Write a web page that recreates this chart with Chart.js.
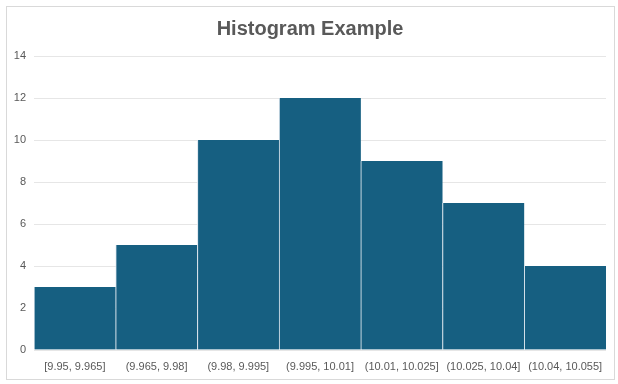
<!DOCTYPE html>
<html>
<head>
<meta charset="utf-8">
<script src="https://cdn.jsdelivr.net/npm/chart.js@4.4.1/dist/chart.umd.min.js"></script>
<style>
  html, body { margin: 0; padding: 0; background: #fff; }
  #wrap { position: relative; width: 618px; height: 384px; }
  #frame { position: absolute; left: 6px; top: 6px; width: 607px; height: 372px; border: 1px solid #d9d9d9; pointer-events: none; }
</style>
</head>
<body>
<div id="wrap">
  <canvas id="histChart" width="618" height="384"></canvas>
  <div id="frame"></div>
</div>
<script>
const binLabels = ['[9.95, 9.965]', '(9.965, 9.98]', '(9.98, 9.995]', '(9.995, 10.01]',
                   '(10.01, 10.025]', '(10.025, 10.04]', '(10.04, 10.055]'];
const counts = [3, 5, 10, 12, 9, 7, 4];
const yMax = 14;
const yStep = 2;

const tickColor = '#595959';

const ctx = document.getElementById('histChart').getContext('2d');
new Chart(ctx, {
  type: 'bar',
  data: {
    labels: binLabels,
    datasets: [{
      label: 'Count',
      data: counts,
      backgroundColor: '#165f81',
      borderColor: '#dce6ee',
      borderWidth: { left: 1, right: 0, top: 0, bottom: 0 },
      borderSkipped: false,
      barPercentage: 1,
      categoryPercentage: 1,
    }]
  },
  options: {
    responsive: false,
    animation: false,
    layout: {
      padding: { left: 14, right: 12, top: 6, bottom: 6 }
    },
    scales: {
      x: {
        grid: { display: false, drawTicks: false },
        border: { display: false },
        ticks: {
          color: tickColor,
          padding: 10,
          maxRotation: 0,
          autoSkip: false,
          font: { family: 'Liberation Sans', size: 11 }
        },
        afterFit: scale => { scale.height = 28; }
      },
      y: {
        min: 0,
        max: yMax,
        grid: { color: '#e6e6e6', drawTicks: false },
        border: { display: false },
        ticks: {
          stepSize: yStep,
          color: tickColor,
          padding: 8,
          font: { family: 'Liberation Sans', size: 11 }
        },
        afterFit: scale => { scale.width = 20; }
      }
    },
    plugins: {
      legend: { display: false },
      tooltip: { enabled: false },
      title: {
        display: true,
        text: 'Histogram Example',
        color: tickColor,
        padding: { top: 11, bottom: 15 },
        font: { family: "'Liberation Sans', sans-serif", size: 20, weight: 'bold' }
      }
    }
  }
});
</script>
</body>
</html>
